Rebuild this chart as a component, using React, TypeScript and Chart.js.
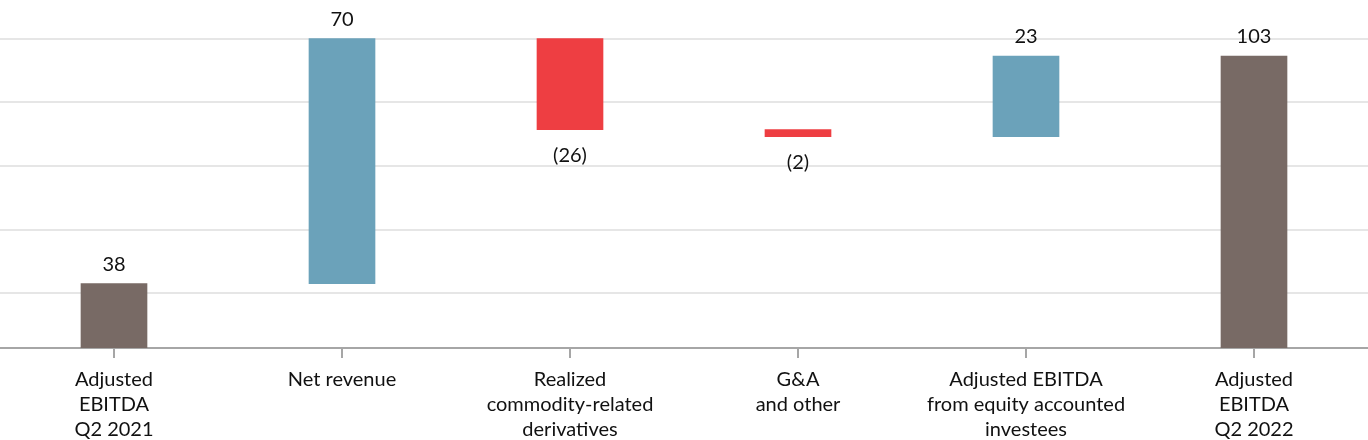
import React, { useEffect, useRef } from "react";
import { Chart, registerables } from "chart.js";

Chart.register(...registerables);

const categories: (string | string[])[] = [
  ["Adjusted", "EBITDA", "Q2 2021"],
  "Net revenue",
  ["Realized", "commodity-related", "derivatives"],
  ["G&A", "and other"],
  ["Adjusted EBITDA", "from equity accounted", "investees"],
  ["Adjusted", "EBITDA", "Q2 2022"],
];
const changes = [38, 70, -26, -2, 23, 103];
const kinds = ["total", "delta", "delta", "delta", "delta", "total"];
const valueLabels = ["38", "70", "(26)", "(2)", "23", "103"];
const gridValues = [35.3, 53.45, 71.6, 89.75, 107.9];
const yMin = 19.64;
const yMax = 118.98;

const BROWN = "#786a65";
const BLUE = "#6ba2ba";
const RED = "#ee3e42";

function buildRanges() {
  const ranges: [number, number][] = [];
  let running = 0;
  changes.forEach((v, i) => {
    if (kinds[i] === "total") {
      ranges.push([0, v]);
      running = v;
    } else {
      ranges.push([running, running + v]);
      running += v;
    }
  });
  return ranges;
}

const labelPlugin = {
  id: "wfLabels",
  afterDatasetsDraw(chart: any) {
    const ctx = chart.ctx;
    const meta = chart.getDatasetMeta(0);
    ctx.save();
    ctx.font = "20px Lato";
    ctx.fillStyle = "#111";
    ctx.textAlign = "center";
    ctx.textBaseline = "middle";
    meta.data.forEach((bar: any, i: number) => {
      const p = bar.getProps(["x", "y", "base"], true);
      const top = Math.min(p.y, p.base);
      const bottom = Math.max(p.y, p.base);
      if (changes[i] >= 0) {
        ctx.fillText(valueLabels[i], p.x, top - 19);
      } else {
        ctx.fillText(valueLabels[i], p.x, bottom + 26);
      }
    });
    ctx.restore();
  },
};

export default function App() {
  const ref = useRef<HTMLCanvasElement>(null);
  useEffect(() => {
    document.body.style.margin = "0";
    const ranges = buildRanges();
    const colors = changes.map((v, i) =>
      kinds[i] === "total" ? BROWN : v >= 0 ? BLUE : RED
    );
    const chart = new Chart(ref.current!, {
      type: "bar",
      data: {
        labels: categories,
        datasets: [
          {
            data: ranges as any,
            backgroundColor: colors,
            borderWidth: 0,
            barThickness: 66,
          },
        ],
      },
      options: {
        animation: false,
        responsive: true,
        maintainAspectRatio: false,
        layout: { padding: { top: 0, left: 0, right: 0, bottom: -11 } },
        plugins: {
          legend: { display: false },
          tooltip: { enabled: false },
          title: { display: false },
        },
        scales: {
          x: {
            type: "category",
            offset: true,
            grid: {
              display: true,
              offset: false,
              drawOnChartArea: false,
              drawTicks: true,
              tickLength: 10,
              color: "#a6a6a6",
              lineWidth: 2,
            },
            border: { display: true, color: "#a6a6a6", width: 2 },
            ticks: {
              font: { family: "Lato", size: 20, lineHeight: 1.25 },
              color: "#111",
              padding: 9,
              maxRotation: 0,
              autoSkip: false,
            },
          },
          y: {
            type: "linear",
            min: yMin,
            max: yMax,
            afterBuildTicks: (scale: any) => {
              scale.ticks = gridValues.map((v) => ({ value: v }));
            },
            grid: {
              display: true,
              drawTicks: false,
              color: "#e6e6e6",
              lineWidth: 2,
            },
            border: { display: false },
            ticks: { display: false },
          },
        },
      },
      plugins: [labelPlugin],
    });
    return () => chart.destroy();
  }, []);
  return (
    <div style={{ position: "fixed", left: 0, top: 0, width: 1368, height: 440 }}>
      <canvas ref={ref} />
    </div>
  );
}
